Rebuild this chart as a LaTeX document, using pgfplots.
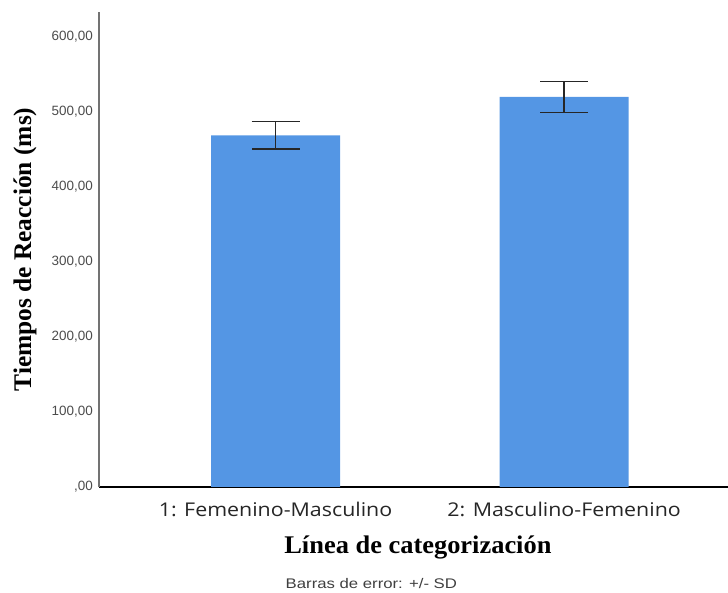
\documentclass[border=0pt]{standalone}
\usepackage{pgfplots}
\pgfplotsset{compat=1.18}
\usepackage{fontspec}
\setmainfont{Liberation Serif}
\newfontfamily\titlefont[FakeStretch=1.04]{Liberation Serif}
\newfontfamily\arial{Liberation Sans}
\newfontfamily\arialwide[FakeStretch=1.2]{Liberation Sans}
\newfontfamily\segoe[FakeStretch=1.13]{Open Sans}
\definecolor{barblue}{RGB}{84,150,228}
\begin{document}
\begin{tikzpicture}[x=1bp,y=1bp]
\useasboundingbox (0,0) rectangle (728,593);
\begin{axis}[
  at={(99bp,106bp)}, anchor=south west,
  scale only axis, width=629bp, height=475bp,
  xmin=-0.612, xmax=1.568, ymin=0, ymax=632.7,
  axis x line*=bottom, axis y line*=left,
  x axis line style={black, line width=1.8bp},
  y axis line style={black!55, line width=1.3bp},
  major tick length=0pt,
  xtick={0,1}, xticklabels={1: Femenino-Masculino, 2: Masculino-Femenino},
  xticklabel style={font=\segoe\fontsize{19}{21}\selectfont, text=black!85, anchor=center, yshift=-22bp},
  ytick={0,100,200,300,400,500,600},
  yticklabels={{,00},{100,00},{200,00},{300,00},{400,00},{500,00},{600,00}},
  yticklabel style={font=\arial\fontsize{13.5}{15}\selectfont, text=black!70, inner sep=0pt, anchor=east, xshift=-6bp},
  /pgf/number format/assume math mode=true,
  xlabel={Línea de categorización},
  ylabel={Tiempos de Reacción (ms)},
  xlabel style={font=\titlefont\bfseries\fontsize{25.5}{28}\selectfont, at={(axis description cs:0.507,-0.128)}, anchor=center},
  ylabel style={font=\bfseries\fontsize{25.5}{28}\selectfont, at={(axis description cs:-0.1176,0.5)}, anchor=center},
  ybar, bar width=129bp, bar shift=0pt,
  clip=false,
]
\addplot[fill=barblue, draw=none,
  error bars/.cd, y dir=both, y explicit,
  error bar style={black!85, line width=1.3bp},
  error mark options={rotate=90, mark size=24bp, line width=1.3bp, black!85}]
  coordinates {(0,468.5) +- (0,18.5) (1,519.5) +- (0,21)};
\node[font=\arialwide\fontsize{14}{16}\selectfont, text=black!75] at (axis description cs:0.433,-0.204) {Barras de error: +/- SD};
\end{axis}
\end{tikzpicture}
\end{document}
